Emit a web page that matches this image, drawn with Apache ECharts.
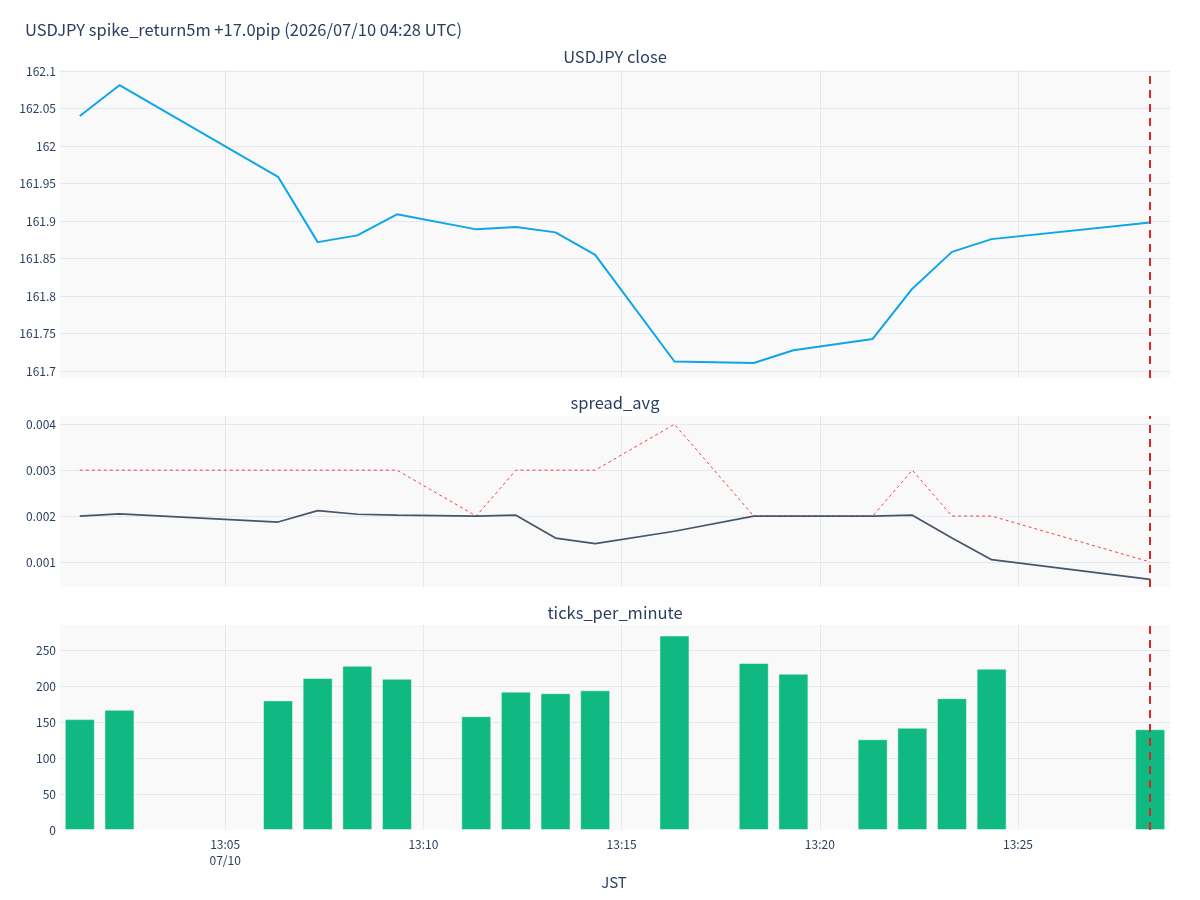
<!DOCTYPE html>
<html>
<head>
<meta charset="utf-8">
<script src="https://cdn.jsdelivr.net/npm/echarts@6/dist/echarts.min.js"></script>
<style>
  html, body { margin: 0; padding: 0; background: #fff; }
  #chart { width: 1200px; height: 900px; }
</style>
</head>
<body>
<div id="chart"></div>
<script>
// 1分足の時刻 (JST)
const times = ['13:01:20', '13:02:20', '13:06:20', '13:07:20', '13:08:20', '13:09:20',
  '13:11:20', '13:12:20', '13:13:20', '13:14:20', '13:16:20', '13:18:20', '13:19:20',
  '13:21:20', '13:22:20', '13:23:20', '13:24:20', '13:28:20']
const closePrice = [162.040, 162.081, 161.959, 161.872, 161.881, 161.909,
  161.889, 161.892, 161.885, 161.855, 161.713, 161.711, 161.728,
  161.743, 161.810, 161.859, 161.876, 161.898]
const spreadAvg = [0.00200, 0.00205, 0.00187, 0.00212, 0.00204, 0.00202,
  0.00200, 0.00202, 0.00152, 0.00140, 0.00167, 0.00200, 0.00200,
  0.00200, 0.00202, 0.00152, 0.00105, 0.00062]
const spreadMax = [0.003, 0.003, 0.003, 0.003, 0.003, 0.003,
  0.002, 0.003, 0.003, 0.003, 0.004, 0.002, 0.002,
  0.002, 0.003, 0.002, 0.002, 0.001]
const ticksPerMinute = [154, 167, 180, 211, 228, 210, 158, 192, 190, 194, 270, 232, 217,
  126, 142, 183, 224, 140]
const eventTime = '13:28:20'
const xStart = '13:00:50'
const xEnd = '13:28:50'
const xTicks = ['13:05', '13:10', '13:15', '13:20', '13:25']

const FONT = 'Noto Sans CJK JP'
const TXT = '#2a3f5f'

// "13:01:20" -> 13:00 からの経過分
const toMin = (t) => {
  const p = t.split(':').map(Number)
  return (p[0] - 13) * 60 + p[1] + (p[2] || 0) / 60
}
const pairs = (vals) => times.map((t, i) => [toMin(t), vals[i]])
const near = (v, step) => Math.abs(v / step - Math.round(v / step)) < 1e-6

const grids = [
  { left: 60, right: 30, top: 70, height: 308 },
  { left: 60, right: 30, top: 416, height: 171 },
  { left: 60, right: 30, top: 625, height: 205 }
].map(g => Object.assign(g, { show: true, backgroundColor: '#f9f9fa', borderWidth: 0 }))

const xAxis = [0, 1, 2].map(i => ({
  type: 'value',
  gridIndex: i,
  min: toMin(xStart),
  max: toMin(xEnd),
  splitNumber: 6,
  minInterval: 5,
  maxInterval: 5,
  axisLine: { show: false },
  axisTick: { show: false },
  splitLine: { show: true, showMinLine: false, showMaxLine: false, lineStyle: { color: '#e4e8f0', width: 1 } },
  axisLabel: {
    show: i === 2,
    showMinLabel: false,
    showMaxLabel: false,
    color: TXT,
    fontFamily: FONT,
    fontSize: 12,
    lineHeight: 16,
    margin: 6,
    formatter: (v) => {
      if (!near(v, 5)) return ''
      const label = xTicks.find(t => Math.abs(toMin(t) - v) < 1e-6) || ''
      return label === xTicks[0] ? label + '\n07/10' : label
    }
  }
}))

const yBase = {
  axisLine: { show: false },
  axisTick: { show: false },
  splitLine: { show: true, showMinLine: false, showMaxLine: false, lineStyle: { color: '#e4e8f0', width: 1 } },
  axisLabel: { color: TXT, fontFamily: FONT, fontSize: 12, margin: 4, showMinLabel: false, showMaxLabel: false }
}

const yAxis = [
  Object.assign({}, yBase, {
    type: 'value', gridIndex: 0, min: 161.691, max: 162.1013,
    splitNumber: 8, minInterval: 0.05, maxInterval: 0.05,
    axisLabel: Object.assign({}, yBase.axisLabel, {
      formatter: (v) => near(v, 0.05) ? String(parseFloat(v.toFixed(3))) : ''
    })
  }),
  Object.assign({}, yBase, {
    type: 'value', gridIndex: 1, min: 0.000455, max: 0.00418,
    splitNumber: 4, minInterval: 0.001, maxInterval: 0.001,
    axisLabel: Object.assign({}, yBase.axisLabel, {
      formatter: (v) => near(v, 0.001) ? v.toFixed(3) : ''
    })
  }),
  Object.assign({}, yBase, {
    type: 'value', gridIndex: 2, min: 0, max: 284.7,
    splitNumber: 6, minInterval: 50, maxInterval: 50,
    axisLabel: Object.assign({}, yBase.axisLabel, {
      showMinLabel: true,
      formatter: (v) => near(v, 50) ? String(Math.round(v)) : ''
    })
  })
]

const eventLine = {
  silent: true,
  symbol: 'none',
  label: { show: false },
  lineStyle: { color: '#dc2626', width: 2, type: [8, 6] },
  data: [{ xAxis: toMin(eventTime) }]
}

const titleFont = '16.5px "' + FONT + '"'

const option = {
  animation: false,
  backgroundColor: '#ffffff',
  textStyle: { fontFamily: FONT },
  grid: grids,
  xAxis: xAxis,
  yAxis: yAxis,
  graphic: [
    { type: 'text', x: 25, y: 30, style: { text: 'USDJPY spike_return5m +17.0pip (2026/07/10 04:28 UTC)', fill: TXT, font: titleFont, verticalAlign: 'middle' } },
    { type: 'text', x: 615, y: 57, style: { text: 'USDJPY close', fill: TXT, font: titleFont, align: 'center', verticalAlign: 'middle' } },
    { type: 'text', x: 615, y: 403, style: { text: 'spread_avg', fill: TXT, font: titleFont, align: 'center', verticalAlign: 'middle' } },
    { type: 'text', x: 615, y: 613, style: { text: 'ticks_per_minute', fill: TXT, font: titleFont, align: 'center', verticalAlign: 'middle' } },
    { type: 'text', x: 614, y: 882, style: { text: 'JST', fill: TXT, font: '15px "' + FONT + '"', align: 'center', verticalAlign: 'middle' } }
  ],
  series: [
    {
      name: 'close', type: 'line', xAxisIndex: 0, yAxisIndex: 0,
      data: pairs(closePrice), symbol: 'none',
      lineStyle: { color: '#0ea5e9', width: 2 },
      markLine: eventLine
    },
    {
      name: 'spread_max', type: 'line', xAxisIndex: 1, yAxisIndex: 1,
      data: pairs(spreadMax), symbol: 'none',
      lineStyle: { color: '#ef4444', width: 1, type: [3, 3] }
    },
    {
      name: 'spread_avg', type: 'line', xAxisIndex: 1, yAxisIndex: 1,
      data: pairs(spreadAvg), symbol: 'none',
      lineStyle: { color: '#475569', width: 1.7 },
      markLine: eventLine
    },
    {
      name: 'ticks', type: 'bar', xAxisIndex: 2, yAxisIndex: 2,
      data: pairs(ticksPerMinute), barWidth: 30,
      itemStyle: { color: '#10b981', borderColor: 'rgba(255,255,255,0.45)', borderWidth: 1 },
      markLine: eventLine
    }
  ]
}

const chart = echarts.init(document.getElementById('chart'))
chart.setOption(option)
</script>
</body>
</html>
